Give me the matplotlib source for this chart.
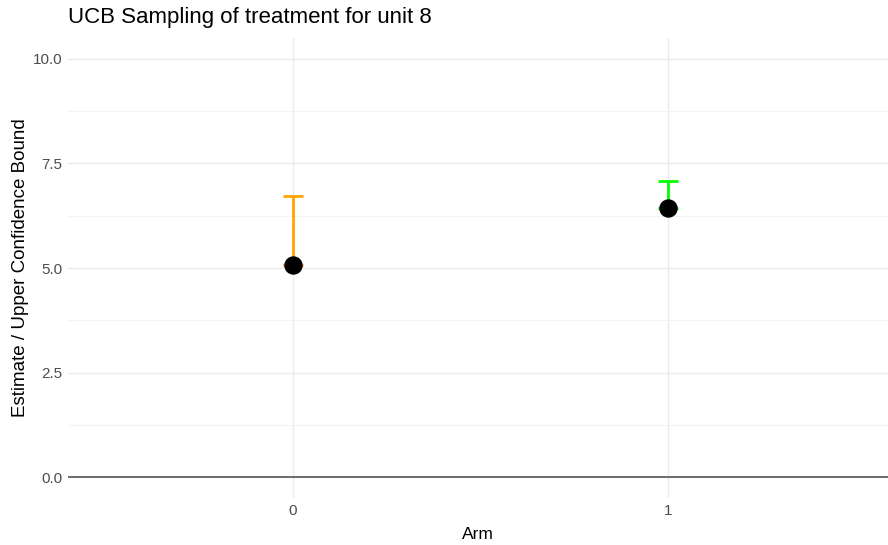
import matplotlib.pyplot as plt

# UCB values per arm
arms = ["0", "1"]
estimates = [5.08, 6.44]
upper_bounds = [6.73, 7.09]
bar_colors = ["#FFA500", "#00FF00"]

plt.rcParams['font.family'] = ['Liberation Sans', 'DejaVu Sans']

fig = plt.figure(figsize=(8.88, 5.45), dpi=100)
ax = fig.add_axes([68 / 888, 47 / 545, 820 / 888, 460 / 545])

xpos = list(range(len(arms)))

# gridlines like theme_minimal
ax.set_axisbelow(True)
ax.grid(True, which='major', color='#ebebeb', linewidth=1.0)
ax.set_yticks([1.25, 3.75, 6.25, 8.75], minor=True)
ax.grid(True, which='minor', axis='y', color='#f3f3f3', linewidth=0.8)

ax.axhline(0, color='#555555', linewidth=1.2, zorder=1)

# error bar from estimate up to the upper bound (lower cap hidden by the point)
for x, est, ub, c in zip(xpos, estimates, upper_bounds, bar_colors):
    ax.errorbar([x], [est], yerr=[[0], [ub - est]], fmt='none', ecolor=c,
                elinewidth=2.0, capsize=7, capthick=2.0, zorder=2)

ax.scatter(xpos, estimates, s=150, color='black', zorder=3)

ax.set_xlim(-0.6, 1.587)
ax.set_ylim(-0.5, 10.5)
ax.set_xticks(xpos)
ax.set_xticklabels(arms)
ax.set_yticks([0, 2.5, 5.0, 7.5, 10.0])
ax.set_yticklabels(['0.0', '2.5', '5.0', '7.5', '10.0'])
ax.tick_params(axis='both', which='both', length=0, labelsize=11, labelcolor='#4d4d4d', pad=4)

for s in ax.spines.values():
    s.set_visible(False)

ax.set_xlabel('Arm', fontsize=12.5, color='black', labelpad=7)
ax.set_ylabel('Estimate / Upper Confidence Bound', fontsize=13.5, color='black', labelpad=3)
fig.text(68 / 888, 1 - 18 / 545, 'UCB Sampling of treatment for unit 8', fontsize=16,
         ha='left', va='center', color='black')

fig.savefig('out.png', dpi=100, facecolor='white')
